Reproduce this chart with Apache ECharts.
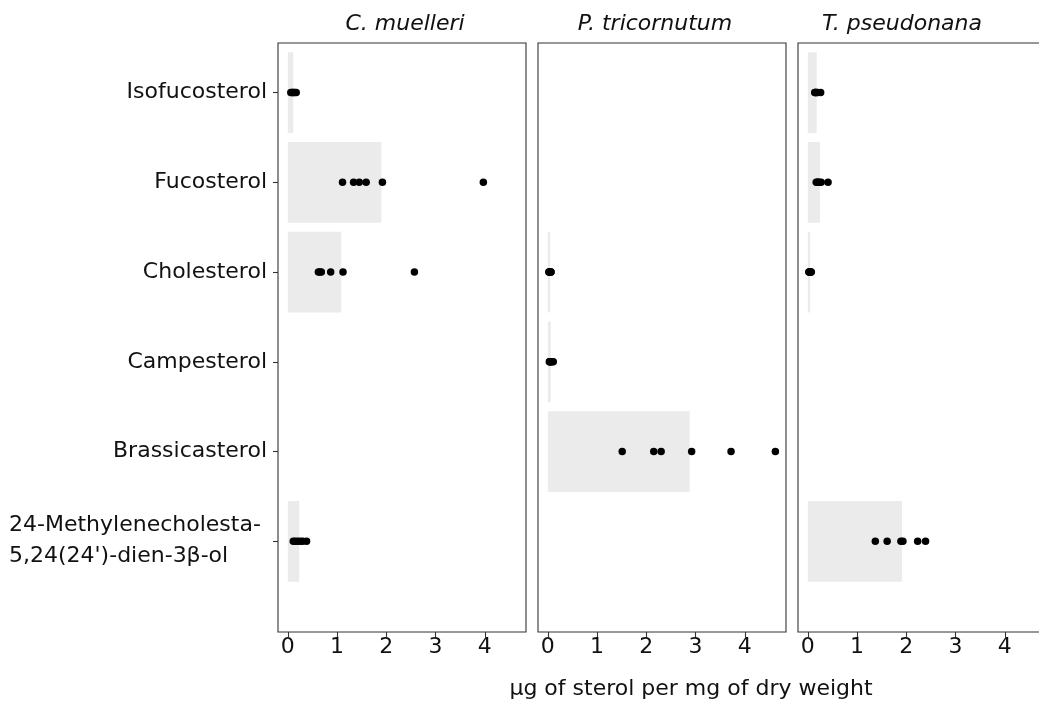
<!DOCTYPE html>
<html>
<head>
<meta charset="utf-8">
<script src="https://cdn.jsdelivr.net/npm/echarts@6/dist/echarts.min.js"></script>
<style>html,body{margin:0;padding:0;background:#fff;}#chart{width:1039px;height:704px;}</style>
</head>
<body>
<div id="chart"></div>
<script>
// ---- data ----
const categories = ['Isofucosterol', 'Fucosterol', 'Cholesterol', 'Campesterol', 'Brassicasterol', "24-Methylenecholesta-\n5,24(24')-dien-3β-ol"];
const species = ['C. muelleri', 'P. tricornutum', 'T. pseudonana'];
const xTicks = [0, 1, 2, 3, 4];
const xTitle = 'μg of sterol per mg of dry weight';

// bar heights (means) per sterol, in category order
const cMuelleriMeans = [0.11, 1.90, 1.085, null, null, 0.23];
const pTricornutumMeans = [null, null, 0.047, 0.06, 2.88, null];
const tPseudonanaMeans = [0.18, 0.245, 0.047, null, null, 1.91];

// individual replicate points per sterol, in category order
const cMuelleriPoints = [[0.06, 0.08, 0.10, 0.12, 0.14, 0.17], [1.11, 1.335, 1.45, 1.59, 1.92, 3.97], [0.62, 0.65, 0.68, 0.87, 1.12, 2.57], [], [], [0.11, 0.15, 0.20, 0.25, 0.30, 0.38]];
const pTricornutumPoints = [[], [], [0.02, 0.03, 0.04, 0.05, 0.06, 0.065], [0.03, 0.04, 0.05, 0.06, 0.08, 0.11], [1.51, 2.15, 2.30, 2.92, 3.72, 4.62], []];
const tPseudonanaPoints = [[0.14, 0.15, 0.16, 0.18, 0.20, 0.26], [0.17, 0.19, 0.21, 0.23, 0.27, 0.41], [0.02, 0.03, 0.04, 0.05, 0.06, 0.07], [], [], [1.37, 1.61, 1.89, 1.93, 2.23, 2.39]];

const allMeans = [cMuelleriMeans, pTricornutumMeans, tPseudonanaMeans];
const allPoints = [cMuelleriPoints, pTricornutumPoints, tPseudonanaPoints];

// ---- layout ----
const FONT = 'DejaVu Sans';
const TXT = '#111';
const panelLefts = [278, 538, 798];
const panelWidth = 248;
const panelTop = 43;
const panelHeight = 589;
const titleCenters = [405, 655, 902];
const catIdx = categories.map((c, i) => i);

const chart = echarts.init(document.getElementById('chart'), null, { renderer: 'canvas' });

const grids = [], xAxes = [], yAxes = [], series = [];
species.forEach((sp, i) => {
  grids.push({ left: panelLefts[i], top: panelTop, width: panelWidth, height: panelHeight, show: true, borderColor: '#333', borderWidth: 1.1, backgroundColor: 'transparent', containLabel: false, outerBoundsMode: 'none' });
  xAxes.push({
    type: 'value', gridIndex: i, min: -0.2, max: 4.836, position: 'bottom',
    axisLine: { show: false, onZero: false },
    splitLine: { show: false },
    axisTick: { show: true, inside: false, length: 5, customValues: xTicks, lineStyle: { color: '#333', width: 1.1 } },
    axisLabel: { show: true, customValues: xTicks, margin: 4, fontSize: 22, fontFamily: FONT, color: TXT }
  });
  yAxes.push({
    type: 'value', gridIndex: i, inverse: true, min: -0.553, max: 6.011, position: 'left',
    axisLine: { show: false, onZero: false },
    splitLine: { show: false },
    axisTick: { show: i === 0, inside: false, length: 5, customValues: catIdx, lineStyle: { color: '#333', width: 1.1 } },
    axisLabel: {
      show: i === 0, customValues: catIdx, margin: 11, fontSize: 22, fontFamily: FONT, color: TXT, align: 'right',
      formatter: (v) => {
        const s = categories[Math.round(v)];
        if (s === undefined) return '';
        if (s.indexOf('\n') >= 0) return s.split('\n').map(l => '{m|' + l + '}').join('\n');
        return s;
      },
      rich: { m: { fontSize: 22, fontFamily: FONT, color: TXT, width: 258, align: 'left', lineHeight: 31 } }
    }
  });
  const barData = [];
  allMeans[i].forEach((m, k) => { if (m !== null) barData.push([m, k]); });
  series.push({
    type: 'custom', xAxisIndex: i, yAxisIndex: i, z: 1,
    encode: { x: 0, y: 1 },
    data: barData,
    renderItem: (params, api) => {
      const v = api.value(0), c = api.value(1);
      const s = api.coord([0, c]);
      const e = api.coord([v, c]);
      const h = Math.abs(api.size([0, 0.9])[1]);
      return { type: 'rect', shape: { x: s[0], y: s[1] - h / 2, width: e[0] - s[0], height: h }, style: { fill: '#EBEBEB' } };
    }
  });
  const ptData = [];
  allPoints[i].forEach((arr, k) => arr.forEach(v => ptData.push([v, k])));
  series.push({
    type: 'scatter', xAxisIndex: i, yAxisIndex: i, z: 3,
    symbol: 'circle', symbolSize: 7.5,
    itemStyle: { color: '#000', opacity: 1 },
    data: ptData,
    silent: true
  });
});

const graphics = species.map((sp, i) => ({
  type: 'text', x: titleCenters[i], y: 24,
  style: { text: sp, font: 'italic 22px "' + FONT + '"', fill: TXT, align: 'center', verticalAlign: 'middle' }
}));
graphics.push({
  type: 'text', x: 691, y: 689,
  style: { text: xTitle, font: '22px "' + FONT + '"', fill: TXT, align: 'center', verticalAlign: 'middle' }
});

chart.setOption({
  animation: false,
  backgroundColor: '#fff',
  grid: grids,
  xAxis: xAxes,
  yAxis: yAxes,
  series: series,
  graphic: graphics
});
</script>
</body>
</html>
